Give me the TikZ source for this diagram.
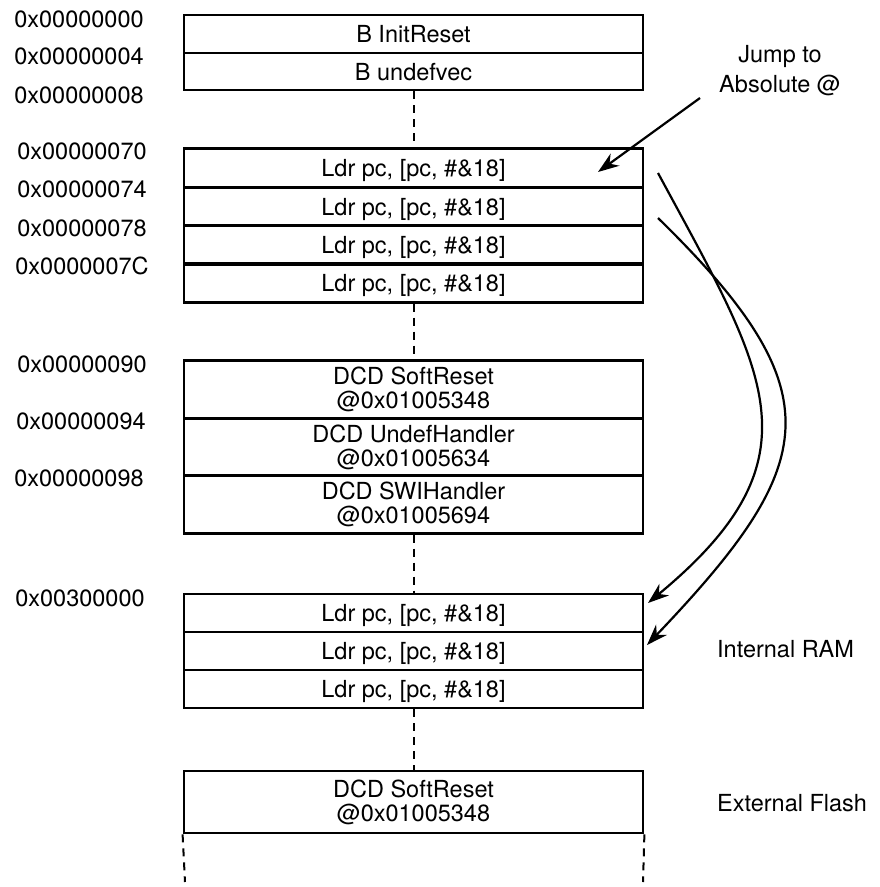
\documentclass[tikz,border=0pt]{standalone}
\usepackage{fontspec}
\setmainfont{TeX Gyre Heros}
\usetikzlibrary{arrows.meta}
\begin{document}
\begin{tikzpicture}[x=1pt,y=-1pt,
  every node/.style={font=\fontsize{23.5}{24}\selectfont},
  cell/.style={draw, line width=2.8pt, minimum width=459pt, inner sep=0pt, text height=17pt, text depth=0pt},
  dcell/.style={draw, line width=2.8pt, minimum width=459pt, inner sep=0pt, align=center},
  addr/.style={inner sep=0pt},
  gap/.style={line width=2pt, dash pattern=on 8pt off 6pt},
  jump/.style={line width=2.2pt, -{Stealth[length=21pt,width=15pt]}}]
\useasboundingbox (0,0) rectangle (880,887);

% box 1
\node[cell, minimum height=38pt] (a1) at (413.5,34) {B InitReset};
\node[cell, minimum height=37pt] (a2) at (413.5,71.5) {B undefvec};
% box 2
\node[cell, minimum height=38.3pt] (b1) at (413.5,168) {Ldr pc, [pc, \#\&18]};
\node[cell, minimum height=38.3pt] (b2) at (413.5,206.5) {Ldr pc, [pc, \#\&18]};
\node[cell, minimum height=38.3pt] (b3) at (413.5,245) {Ldr pc, [pc, \#\&18]};
\node[cell, minimum height=38.3pt] (b4) at (413.5,283) {Ldr pc, [pc, \#\&18]};
% box 3
\node[dcell, minimum height=57.3pt] (c1) at (413.5,389.5) {DCD SoftReset\\@0x01005348};
\node[dcell, minimum height=57.3pt] (c2) at (413.5,447) {DCD UndefHandler\\@0x01005634};
\node[dcell, minimum height=57.3pt] (c3) at (413.5,504.5) {DCD SWIHandler\\@0x01005694};
% box 4
\node[cell, minimum height=38pt] (d1) at (413.5,613) {Ldr pc, [pc, \#\&18]};
\node[cell, minimum height=38pt] (d2) at (413.5,651) {Ldr pc, [pc, \#\&18]};
\node[cell, minimum height=38pt] (d3) at (413.5,689) {Ldr pc, [pc, \#\&18]};
% box 5
\node[dcell, minimum height=62pt] (e1) at (413.5,802) {DCD SoftReset\\@0x01005348};

% addresses
\node[addr] (m0) at (79,19.5) {0x00000000};
\node[addr] (m1) at (79,56) {0x00000004};
\node[addr] (m2) at (79,95) {0x00000008};
\node[addr] (m3) at (82,151) {0x00000070};
\node[addr] (m4) at (82,189) {0x00000074};
\node[addr] (m5) at (82,228) {0x00000078};
\node[addr] (m6) at (82,266) {0x0000007C};
\node[addr] (m7) at (82,364) {0x00000090};
\node[addr] (m8) at (81,421) {0x00000094};
\node[addr] (m9) at (79,478) {0x00000098};
\node[addr] (m10) at (80,598) {0x00300000};

% right labels
\node[align=center, inner sep=0pt] (jl) at (780,71) {Jump to\\[6pt]Absolute @};
\node[anchor=west, inner sep=0pt] (ram) at (717,649) {Internal RAM};
\node[anchor=west, inner sep=0pt] (flash) at (717,803) {External Flash};

% dashed gaps
\draw[gap] (a2.south) -- (b1.north);
\draw[gap] (b4.south) -- (c1.north);
\draw[gap] (c3.south) -- (d1.north);
\draw[gap] (d3.south) -- (e1.north);
\coordinate (bl) at (185,882);
\coordinate (br) at (643,882);
\draw[gap] (e1.south west) -- (bl);
\draw[gap] (e1.south east) -- (br);

% arrows
\coordinate (js) at (700,98);
\coordinate (je) at (598,172);
\draw[jump] (js) -- (je);
\coordinate (as) at (658,173);
\coordinate (ae) at (648,603);
\draw[jump] (as) .. controls (766.5,374) and (824,457.5) .. (ae);
\coordinate (bs) at (658,218);
\coordinate (be) at (647,645);
\draw[jump] (bs) .. controls (837,393) and (819.5,464) .. (be);
\end{tikzpicture}
\end{document}
